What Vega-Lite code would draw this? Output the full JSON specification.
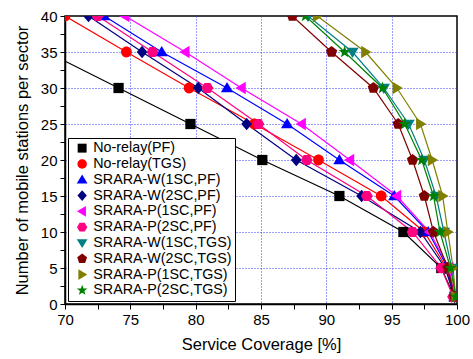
{
  "$schema": "https://vega.github.io/schema/vega-lite/v6.json",
  "width": 392,
  "height": 288,
  "autosize": {"type": "none"},
  "padding": {"left": 65, "top": 16, "right": 16, "bottom": 55},
  "background": "white",
  "config": {
    "font": "Liberation Sans",
    "view": {"stroke": "black", "strokeWidth": 1.5}
  },
  "resolve": {"legend": {"color": "independent", "shape": "independent"}},
  "data": {
    "values": [
      {"s": "No-relay(PF)", "y": 35, "x": 68.6},
      {"s": "No-relay(PF)", "y": 30, "x": 74.1},
      {"s": "No-relay(PF)", "y": 25, "x": 79.6},
      {"s": "No-relay(PF)", "y": 20, "x": 85.1},
      {"s": "No-relay(PF)", "y": 15, "x": 91.0},
      {"s": "No-relay(PF)", "y": 10, "x": 95.9},
      {"s": "No-relay(PF)", "y": 5, "x": 98.8},
      {"s": "No-relay(PF)", "y": 1, "x": 99.8},

      {"s": "No-relay(TGS)", "y": 40, "x": 70.0},
      {"s": "No-relay(TGS)", "y": 35, "x": 74.7},
      {"s": "No-relay(TGS)", "y": 30, "x": 79.5},
      {"s": "No-relay(TGS)", "y": 25, "x": 84.5},
      {"s": "No-relay(TGS)", "y": 20, "x": 89.4},
      {"s": "No-relay(TGS)", "y": 15, "x": 94.2},
      {"s": "No-relay(TGS)", "y": 10, "x": 97.5},
      {"s": "No-relay(TGS)", "y": 5, "x": 99.2},
      {"s": "No-relay(TGS)", "y": 1, "x": 99.8},

      {"s": "SRARA-W(1SC,PF)", "y": 40, "x": 73.0},
      {"s": "SRARA-W(1SC,PF)", "y": 35, "x": 77.4},
      {"s": "SRARA-W(1SC,PF)", "y": 30, "x": 82.4},
      {"s": "SRARA-W(1SC,PF)", "y": 25, "x": 87.0},
      {"s": "SRARA-W(1SC,PF)", "y": 20, "x": 91.0},
      {"s": "SRARA-W(1SC,PF)", "y": 15, "x": 95.2},
      {"s": "SRARA-W(1SC,PF)", "y": 10, "x": 97.8},
      {"s": "SRARA-W(1SC,PF)", "y": 5, "x": 99.3},
      {"s": "SRARA-W(1SC,PF)", "y": 1, "x": 99.8},

      {"s": "SRARA-W(2SC,PF)", "y": 40, "x": 71.8},
      {"s": "SRARA-W(2SC,PF)", "y": 35, "x": 75.9},
      {"s": "SRARA-W(2SC,PF)", "y": 30, "x": 80.2},
      {"s": "SRARA-W(2SC,PF)", "y": 25, "x": 83.9},
      {"s": "SRARA-W(2SC,PF)", "y": 20, "x": 87.7},
      {"s": "SRARA-W(2SC,PF)", "y": 15, "x": 92.7},
      {"s": "SRARA-W(2SC,PF)", "y": 10, "x": 97.2},
      {"s": "SRARA-W(2SC,PF)", "y": 5, "x": 99.1},
      {"s": "SRARA-W(2SC,PF)", "y": 1, "x": 99.8},

      {"s": "SRARA-P(1SC,PF)", "y": 40, "x": 74.6},
      {"s": "SRARA-P(1SC,PF)", "y": 35, "x": 79.2},
      {"s": "SRARA-P(1SC,PF)", "y": 30, "x": 83.5},
      {"s": "SRARA-P(1SC,PF)", "y": 25, "x": 88.1},
      {"s": "SRARA-P(1SC,PF)", "y": 20, "x": 91.8},
      {"s": "SRARA-P(1SC,PF)", "y": 15, "x": 95.4},
      {"s": "SRARA-P(1SC,PF)", "y": 10, "x": 97.9},
      {"s": "SRARA-P(1SC,PF)", "y": 5, "x": 99.4},
      {"s": "SRARA-P(1SC,PF)", "y": 1, "x": 99.8},

      {"s": "SRARA-P(2SC,PF)", "y": 40, "x": 72.5},
      {"s": "SRARA-P(2SC,PF)", "y": 35, "x": 76.7},
      {"s": "SRARA-P(2SC,PF)", "y": 30, "x": 80.9},
      {"s": "SRARA-P(2SC,PF)", "y": 25, "x": 84.8},
      {"s": "SRARA-P(2SC,PF)", "y": 20, "x": 88.5},
      {"s": "SRARA-P(2SC,PF)", "y": 15, "x": 93.1},
      {"s": "SRARA-P(2SC,PF)", "y": 10, "x": 96.6},
      {"s": "SRARA-P(2SC,PF)", "y": 5, "x": 98.8},
      {"s": "SRARA-P(2SC,PF)", "y": 1, "x": 99.7},

      {"s": "SRARA-W(1SC,TGS)", "y": 40, "x": 88.6},
      {"s": "SRARA-W(1SC,TGS)", "y": 35, "x": 92.0},
      {"s": "SRARA-W(1SC,TGS)", "y": 30, "x": 94.4},
      {"s": "SRARA-W(1SC,TGS)", "y": 25, "x": 96.3},
      {"s": "SRARA-W(1SC,TGS)", "y": 20, "x": 97.5},
      {"s": "SRARA-W(1SC,TGS)", "y": 15, "x": 98.4},
      {"s": "SRARA-W(1SC,TGS)", "y": 10, "x": 99.0},
      {"s": "SRARA-W(1SC,TGS)", "y": 5, "x": 99.6},
      {"s": "SRARA-W(1SC,TGS)", "y": 1, "x": 99.9},

      {"s": "SRARA-W(2SC,TGS)", "y": 40, "x": 87.4},
      {"s": "SRARA-W(2SC,TGS)", "y": 35, "x": 90.4},
      {"s": "SRARA-W(2SC,TGS)", "y": 30, "x": 93.6},
      {"s": "SRARA-W(2SC,TGS)", "y": 25, "x": 95.5},
      {"s": "SRARA-W(2SC,TGS)", "y": 20, "x": 96.6},
      {"s": "SRARA-W(2SC,TGS)", "y": 15, "x": 97.5},
      {"s": "SRARA-W(2SC,TGS)", "y": 10, "x": 98.2},
      {"s": "SRARA-W(2SC,TGS)", "y": 5, "x": 99.3},
      {"s": "SRARA-W(2SC,TGS)", "y": 1, "x": 99.8},

      {"s": "SRARA-P(1SC,TGS)", "y": 40, "x": 89.3},
      {"s": "SRARA-P(1SC,TGS)", "y": 35, "x": 93.0},
      {"s": "SRARA-P(1SC,TGS)", "y": 30, "x": 95.4},
      {"s": "SRARA-P(1SC,TGS)", "y": 25, "x": 97.2},
      {"s": "SRARA-P(1SC,TGS)", "y": 20, "x": 98.1},
      {"s": "SRARA-P(1SC,TGS)", "y": 15, "x": 98.9},
      {"s": "SRARA-P(1SC,TGS)", "y": 10, "x": 99.3},
      {"s": "SRARA-P(1SC,TGS)", "y": 5, "x": 99.7},
      {"s": "SRARA-P(1SC,TGS)", "y": 1, "x": 99.9},

      {"s": "SRARA-P(2SC,TGS)", "y": 40, "x": 88.4},
      {"s": "SRARA-P(2SC,TGS)", "y": 35, "x": 91.4},
      {"s": "SRARA-P(2SC,TGS)", "y": 30, "x": 94.3},
      {"s": "SRARA-P(2SC,TGS)", "y": 25, "x": 96.0},
      {"s": "SRARA-P(2SC,TGS)", "y": 20, "x": 97.3},
      {"s": "SRARA-P(2SC,TGS)", "y": 15, "x": 98.2},
      {"s": "SRARA-P(2SC,TGS)", "y": 10, "x": 98.7},
      {"s": "SRARA-P(2SC,TGS)", "y": 5, "x": 99.5},
      {"s": "SRARA-P(2SC,TGS)", "y": 1, "x": 99.9}
    ]
  },
  "encoding": {
    "x": {
      "field": "x", "type": "quantitative",
      "scale": {"domain": [70, 100], "nice": false, "zero": false},
      "axis": {
        "title": "Service Coverage [%]",
        "values": [70, 72.5, 75, 77.5, 80, 82.5, 85, 87.5, 90, 92.5, 95, 97.5, 100],
        "labelExpr": "datum.value % 5 === 0 ? format(datum.value, 'd') : ''",
        "grid": true,
        "gridColor": "#3a3aff",
        "gridDash": [1, 2],
        "gridWidth": 1,
        "gridOpacity": {"condition": {"test": "datum.value % 5 === 0 && datum.value > 70 && datum.value < 100", "value": 1}, "value": 0},
        "domainColor": "black", "domainWidth": 1.5,
        "tickColor": "black", "tickSize": 5, "tickWidth": 1,
        "labelFontSize": 15, "labelColor": "black", "labelPadding": 3, "labelFlush": false,
        "titleFontSize": 16.5, "titleFontWeight": "normal", "titleColor": "black", "titlePadding": 9
      }
    },
    "y": {
      "field": "y", "type": "quantitative",
      "scale": {"domain": [0, 40], "nice": false},
      "axis": {
        "title": "Number of mobile stations per sector",
        "values": [0, 2.5, 5, 7.5, 10, 12.5, 15, 17.5, 20, 22.5, 25, 27.5, 30, 32.5, 35, 37.5, 40],
        "labelExpr": "datum.value % 5 === 0 ? format(datum.value, 'd') : ''",
        "grid": true,
        "gridColor": "#3a3aff",
        "gridDash": [1, 2],
        "gridWidth": 1,
        "gridOpacity": {"condition": {"test": "datum.value % 5 === 0 && datum.value > 0 && datum.value < 40", "value": 1}, "value": 0},
        "domainColor": "black", "domainWidth": 1.5,
        "tickColor": "black", "tickSize": 5, "tickWidth": 1,
        "labelFontSize": 15, "labelColor": "black", "labelPadding": 3, "labelFlush": false,
        "titleFontSize": 16.5, "titleFontWeight": "normal", "titleColor": "black", "titlePadding": 10
      }
    }
  },
  "layer": [
    {
      "mark": {"type": "line", "clip": true, "strokeWidth": 1.2},
      "encoding": {
        "color": {
          "field": "s", "type": "nominal",
          "scale": {
            "domain": ["No-relay(PF)", "No-relay(TGS)", "SRARA-W(1SC,PF)", "SRARA-W(2SC,PF)", "SRARA-P(1SC,PF)", "SRARA-P(2SC,PF)", "SRARA-W(1SC,TGS)", "SRARA-W(2SC,TGS)", "SRARA-P(1SC,TGS)", "SRARA-P(2SC,TGS)"],
            "range": ["#000000", "#ff0000", "#0000ff", "#000080", "#ff00ff", "#ff0080", "#008080", "#800000", "#808000", "#008000"]
          },
          "legend": null
        },
        "order": {"field": "y", "type": "quantitative", "sort": "descending"}
      }
    },
    {
      "mark": {"type": "point", "filled": true, "opacity": 1, "size": 105, "clip": true},
      "encoding": {
        "color": {
          "field": "s", "type": "nominal",
          "legend": {
            "title": null,
            "orient": "bottom-left",
            "offset": 3,
            "padding": 3,
            "symbolOffset": 4,
            "strokeColor": "black",
            "fillColor": "white",
            "labelFontSize": 14.3,
            "labelColor": "black",
            "labelOffset": 4,
            "rowPadding": 0.8,
            "symbolSize": 80,
            "symbolOpacity": 1
          }
        },
        "shape": {
          "field": "s", "type": "nominal",
          "scale": {
            "domain": ["No-relay(PF)", "No-relay(TGS)", "SRARA-W(1SC,PF)", "SRARA-W(2SC,PF)", "SRARA-P(1SC,PF)", "SRARA-P(2SC,PF)", "SRARA-W(1SC,TGS)", "SRARA-W(2SC,TGS)", "SRARA-P(1SC,TGS)", "SRARA-P(2SC,TGS)"],
            "range": [
              "M-1,-1H1V1H-1Z",
              "M1.05,0A1.05,1.05,0,1,1,-1.05,0A1.05,1.05,0,1,1,1.05,0Z",
              "M0,-1.15L1.2,0.85L-1.2,0.85Z",
              "M0,-1.2L1.05,0L0,1.2L-1.05,0Z",
              "M-1.15,0L0.85,-1.2L0.85,1.2Z",
              "M-1.15,0L-0.58,-1L0.58,-1L1.15,0L0.58,1L-0.58,1Z",
              "M0,1.15L1.2,-0.85L-1.2,-0.85Z",
              "M0,-1.15L1.1,-0.36L0.68,0.93L-0.68,0.93L-1.1,-0.36Z",
              "M1.15,0L-0.85,-1.2L-0.85,1.2Z",
              "M0,-1.25L0.3,-0.41L1.19,-0.39L0.49,0.16L0.73,1.01L0,0.52L-0.73,1.01L-0.49,0.16L-1.19,-0.39L-0.3,-0.41Z"
            ]
          },
          "legend": null
        }
      }
    },
    {
      "data": {"values": [{}]},
      "mark": {"type": "rule", "color": "#7f7f7f", "strokeWidth": 3, "xOffset": 2},
      "encoding": {
        "x": {"datum": 100},
        "y": {"datum": 0},
        "y2": {"datum": 40}
      }
    }
  ]
}
